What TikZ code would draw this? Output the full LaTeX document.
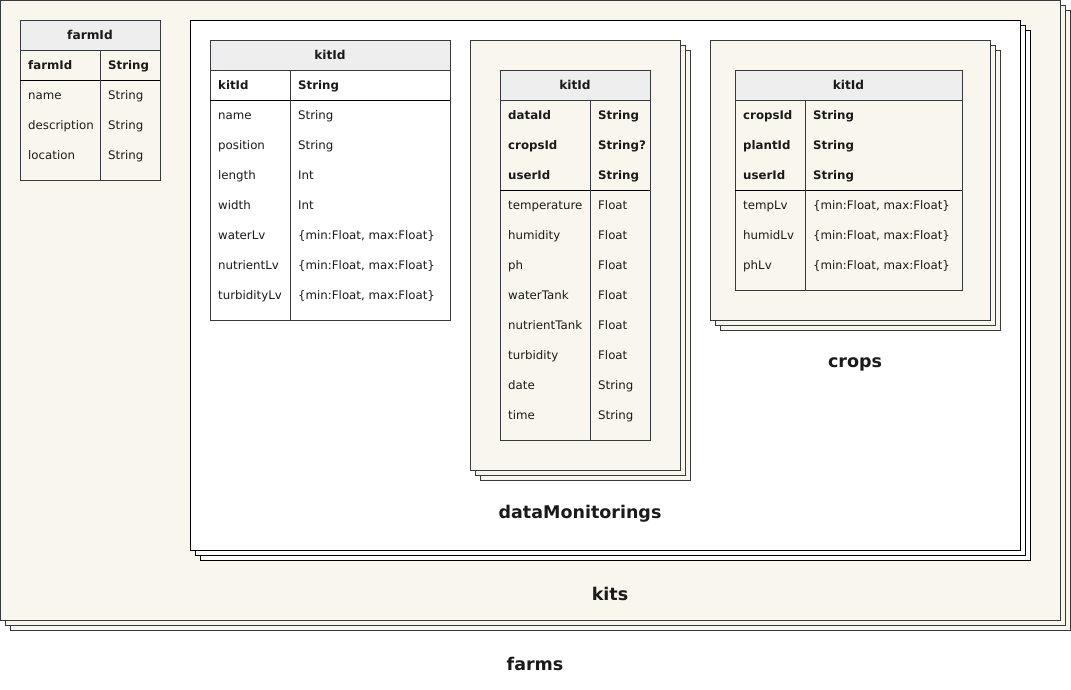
\documentclass[tikz,border=0pt]{standalone}
\usepackage{fontspec}
\setmainfont{DejaVu Sans}
\definecolor{cream}{HTML}{F9F7ED}
\definecolor{hdrgray}{HTML}{EEEEEE}
\definecolor{edge}{HTML}{36393D}
\definecolor{txt}{HTML}{1A1A1A}
\tikzset{
  box/.style={draw=edge, line width=1pt, anchor=north west, inner sep=0pt, outer sep=0pt},
  creambox/.style={box, fill=cream},
  whitebox/.style={box, draw=black, fill=white},
  hdr/.style={box, fill=hdrgray, font=\fontsize{12.2}{14}\selectfont\bfseries, text=txt},
  cell/.style={anchor=mid west, inner sep=0pt, yshift=-1.5pt, font=\fontsize{11.8}{14}\selectfont, text=txt},
  keycell/.style={cell, font=\fontsize{11.8}{14}\selectfont\bfseries},
  sep/.style={draw=black, line width=1pt},
  lbl/.style={inner sep=0pt, yshift=-2pt, font=\fontsize{17.5}{20}\selectfont\bfseries, text=txt}
}
\begin{document}
\begin{tikzpicture}[x=1pt,y=-1pt]
\useasboundingbox (0,0) rectangle (1071,689);
% ---------------- farms stack
\node[creambox, minimum width=1060pt, minimum height=620pt] (farms3) at (10,10) {};
\node[creambox, minimum width=1060pt, minimum height=620pt] (farms2) at (5,5) {};
\node[creambox, minimum width=1060pt, minimum height=620pt] (farms1) at (0,0) {};
\node[lbl] (farmsL) at (535,662) {farms};
% farmId table
\node[creambox, minimum width=140pt, minimum height=160pt] (farmT) at (20,20) {};
\node[hdr, minimum width=140pt, minimum height=30pt] (farmH) at (20,20) {farmId};
\draw[sep] (20,80) -- (160,80);
\draw[draw=edge, line width=1pt] (100,50) -- (100,180);
\node[keycell] at (28,65) {farmId};
\node[keycell] at (108,65) {String};
\node[cell] at (28,95) {name};        \node[cell] at (108,95) {String};
\node[cell] at (28,125) {description}; \node[cell] at (108,125) {String};
\node[cell] at (28,155) {location};    \node[cell] at (108,155) {String};
% ---------------- kits stack
\node[whitebox, minimum width=830pt, minimum height=530pt] (kits3) at (200,30) {};
\node[whitebox, minimum width=830pt, minimum height=530pt] (kits2) at (195,25) {};
\node[whitebox, minimum width=830pt, minimum height=530pt] (kits1) at (190,20) {};
\node[lbl] (kitsL) at (610,592) {kits};
% kitId table
\node[box, fill=white, minimum width=240pt, minimum height=280pt] (kitT) at (210,40) {};
\node[hdr, minimum width=240pt, minimum height=30pt] (kitH) at (210,40) {kitId};
\draw[sep] (210,100) -- (450,100);
\draw[draw=edge, line width=1pt] (290,70) -- (290,320);
\node[keycell] at (218,85) {kitId};
\node[keycell] at (298,85) {String};
\node[cell] at (218,115) {name};        \node[cell] at (298,115) {String};
\node[cell] at (218,145) {position};    \node[cell] at (298,145) {String};
\node[cell] at (218,175) {length};      \node[cell] at (298,175) {Int};
\node[cell] at (218,205) {width};       \node[cell] at (298,205) {Int};
\node[cell] at (218,235) {waterLv};     \node[cell] at (298,235) {\{min:Float, max:Float\}};
\node[cell] at (218,265) {nutrientLv};  \node[cell] at (298,265) {\{min:Float, max:Float\}};
\node[cell] at (218,295) {turbidityLv}; \node[cell] at (298,295) {\{min:Float, max:Float\}};
% ---------------- dataMonitorings stack
\node[creambox, minimum width=210pt, minimum height=430pt] (dm3) at (480,50) {};
\node[creambox, minimum width=210pt, minimum height=430pt] (dm2) at (475,45) {};
\node[creambox, minimum width=210pt, minimum height=430pt] (dm1) at (470,40) {};
\node[lbl] (dmL) at (580,512) {dataMonitorings};
\node[creambox, minimum width=150pt, minimum height=370pt] (dmT) at (500,70) {};
\node[hdr, minimum width=150pt, minimum height=30pt] (dmH) at (500,70) {kitId};
\draw[sep] (500,190) -- (650,190);
\draw[draw=edge, line width=1pt] (590,100) -- (590,440);
\node[keycell] at (508,115) {dataId};  \node[keycell] at (598,115) {String};
\node[keycell] at (508,145) {cropsId}; \node[keycell] at (598,145) {String?};
\node[keycell] at (508,175) {userId};  \node[keycell] at (598,175) {String};
\node[cell] at (508,205) {temperature}; \node[cell] at (598,205) {Float};
\node[cell] at (508,235) {humidity};    \node[cell] at (598,235) {Float};
\node[cell] at (508,265) {ph};          \node[cell] at (598,265) {Float};
\node[cell] at (508,295) {waterTank};   \node[cell] at (598,295) {Float};
\node[cell] at (508,325) {nutrientTank};\node[cell] at (598,325) {Float};
\node[cell] at (508,355) {turbidity};   \node[cell] at (598,355) {Float};
\node[cell] at (508,385) {date};        \node[cell] at (598,385) {String};
\node[cell] at (508,415) {time};        \node[cell] at (598,415) {String};
% ---------------- crops stack
\node[creambox, minimum width=280pt, minimum height=280pt] (cr3) at (720,50) {};
\node[creambox, minimum width=280pt, minimum height=280pt] (cr2) at (715,45) {};
\node[creambox, minimum width=280pt, minimum height=280pt] (cr1) at (710,40) {};
\node[lbl] (crL) at (855,362) {crops};
\node[creambox, minimum width=227pt, minimum height=220pt] (crT) at (735,70) {};
\node[hdr, minimum width=227pt, minimum height=30pt] (crH) at (735,70) {kitId};
\draw[sep] (735,190) -- (962,190);
\draw[draw=edge, line width=1pt] (805,100) -- (805,290);
\node[keycell] at (743,115) {cropsId}; \node[keycell] at (813,115) {String};
\node[keycell] at (743,145) {plantId}; \node[keycell] at (813,145) {String};
\node[keycell] at (743,175) {userId};  \node[keycell] at (813,175) {String};
\node[cell] at (743,205) {tempLv};  \node[cell] at (813,205) {\{min:Float, max:Float\}};
\node[cell] at (743,235) {humidLv}; \node[cell] at (813,235) {\{min:Float, max:Float\}};
\node[cell] at (743,265) {phLv};    \node[cell] at (813,265) {\{min:Float, max:Float\}};
\end{tikzpicture}
\end{document}
